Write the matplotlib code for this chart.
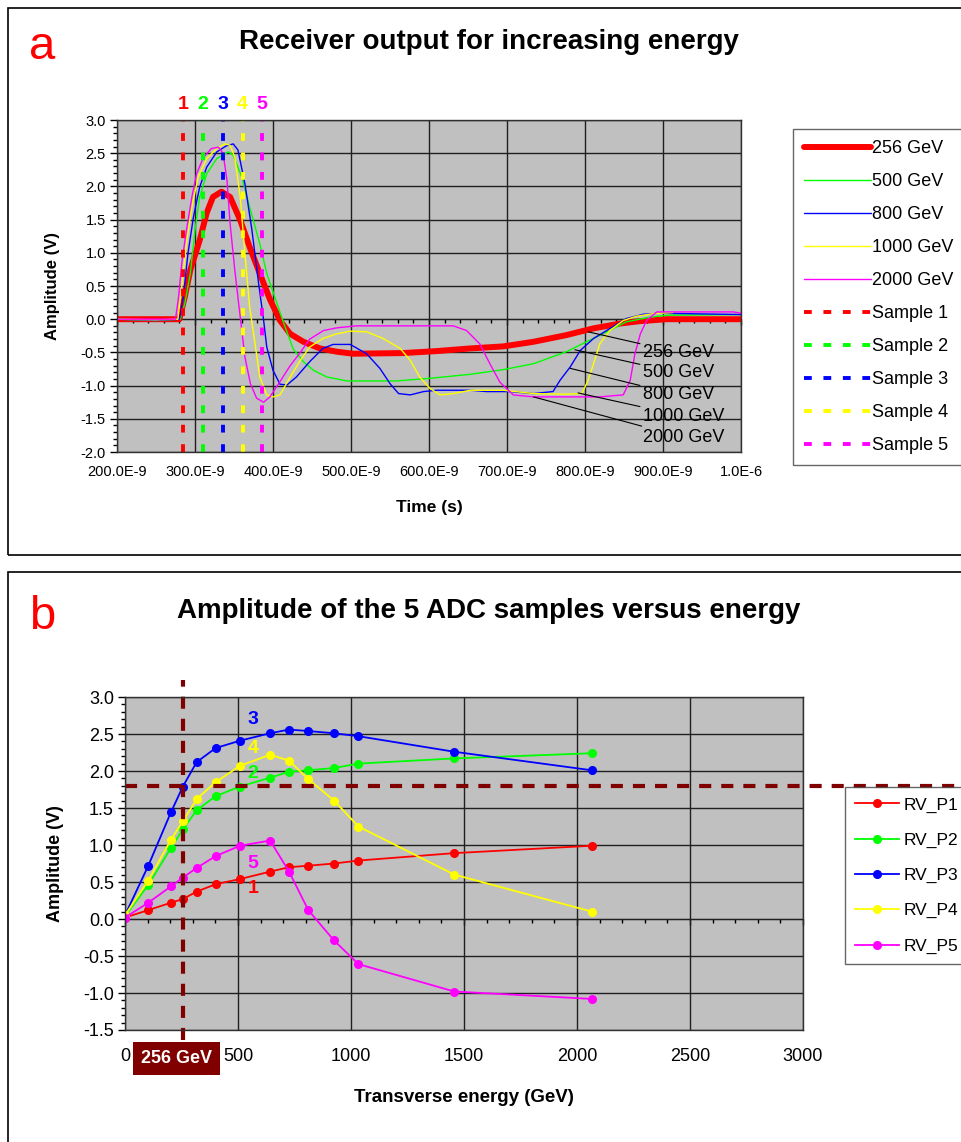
import matplotlib
matplotlib.use('Agg')
import matplotlib.pyplot as plt
from matplotlib.patches import Rectangle
from matplotlib.ticker import MultipleLocator, FormatStrFormatter
import numpy as np

plt.rcParams['font.family'] = ['Liberation Sans', 'DejaVu Sans']
plt.rcParams['axes.unicode_minus'] = False

# ---- panel a data (time in ns, amplitude in V) ----
t_256 = [200, 240, 280, 287, 294, 306, 315, 323, 334, 345, 358, 370, 383, 396, 409, 422, 439,
         460, 482, 503, 567, 610, 653, 695, 734, 776, 810, 845, 870, 905, 1000]
v_256 = [0.0, 0.0, 0.0, 0.34, 0.74, 1.19, 1.60, 1.84, 1.92, 1.84, 1.49, 1.09, 0.69, 0.30, -0.02, -0.22, -0.34,
         -0.44, -0.49, -0.52, -0.51, -0.48, -0.44, -0.41, -0.34, -0.24, -0.14, -0.065, -0.03, 0.0, 0.0]

t_500 = [200, 250, 281, 287, 294, 300, 306, 315, 328, 343, 349, 360, 370, 383, 392, 405, 415,
         426, 439, 452, 469, 495, 558, 601, 653, 695, 734, 776, 802, 828, 853, 883, 905, 1000]
v_500 = [0.0, -0.02, 0.0, 0.24, 0.69, 1.34, 1.84, 2.19, 2.42, 2.52, 2.47, 2.14, 1.69, 1.14, 0.69, 0.24, -0.10,
         -0.45, -0.64, -0.77, -0.87, -0.93, -0.93, -0.89, -0.83, -0.76, -0.67, -0.49, -0.34, -0.19, -0.04, 0.03, 0.06, 0.07]

t_800 = [200, 250, 280, 285, 291, 298, 306, 315, 328, 340, 349, 355, 364, 373, 381, 388, 392, 400,
         409, 418, 430, 447, 464, 477, 499, 520, 537, 550, 561, 576, 593, 610, 653, 674, 704, 734,
         759, 768, 781, 794, 811, 832, 853, 875, 896, 1000]
v_800 = [0.0, -0.02, 0.0, 0.34, 0.99, 1.54, 1.99, 2.29, 2.52, 2.61, 2.64, 2.55, 2.04, 1.34, 0.59, -0.02, -0.42, -0.77,
         -0.98, -0.99, -0.87, -0.64, -0.44, -0.38, -0.38, -0.52, -0.74, -0.97, -1.12, -1.14, -1.09, -1.07, -1.07, -1.09, -1.09, -1.12,
         -1.09, -0.92, -0.72, -0.47, -0.29, -0.14, 0.01, 0.075, 0.09, 0.07]

t_1000 = [200, 250, 278, 283, 289, 296, 304, 315, 328, 338, 345, 351, 358, 364, 370, 377, 383, 392,
          400, 409, 422, 435, 447, 464, 482, 499, 520, 541, 563, 576, 588, 601, 614, 631, 653, 695,
          734, 776, 796, 804, 811, 819, 832, 849, 866, 888, 913]
v_1000 = [0.0, -0.01, 0.0, 0.49, 1.14, 1.69, 2.14, 2.42, 2.57, 2.64, 2.62, 2.44, 1.84, 0.99, 0.19, -0.37, -0.87, -1.14,
          -1.17, -1.14, -0.87, -0.62, -0.42, -0.29, -0.22, -0.18, -0.19, -0.29, -0.44, -0.62, -0.87, -1.04, -1.14, -1.12, -1.07, -1.07,
          -1.12, -1.13, -1.12, -0.92, -0.67, -0.37, -0.17, -0.02, 0.045, 0.085, 0.10]

t_2000 = [200, 250, 275, 279, 283, 289, 296, 302, 311, 321, 330, 336, 341, 345, 351, 358, 364, 371,
          379, 388, 396, 409, 422, 435, 447, 465, 482, 507, 631, 648, 665, 678, 691, 708, 734, 819,
          849, 858, 864, 871, 879, 892, 990, 1000]
v_2000 = [0.0, 0.0, 0.0, 0.34, 0.84, 1.34, 1.84, 2.19, 2.44, 2.57, 2.59, 2.50, 2.09, 1.44, 0.74, 0.03, -0.57, -0.97,
          -1.19, -1.25, -1.17, -0.94, -0.70, -0.50, -0.30, -0.17, -0.13, -0.10, -0.10, -0.17, -0.37, -0.67, -0.95, -1.14, -1.17, -1.17,
          -1.14, -0.92, -0.52, -0.22, -0.02, 0.11, 0.11, 0.09]

sample_t = [285, 310, 336, 361, 386]
time_ticks = [200, 300, 400, 500, 600, 700, 800, 900, 1000]
time_tick_labels = ['200.0E-9', '300.0E-9', '400.0E-9', '500.0E-9', '600.0E-9',
                    '700.0E-9', '800.0E-9', '900.0E-9', '1.0E-6']

# callouts: (label, point time, point amp, text time, text amp)
callouts = [('256 GeV', 804, -0.19, 874, -0.50),
            ('500 GeV', 787, -0.46, 874, -0.81),
            ('800 GeV', 781, -0.74, 874, -1.14),
            ('1000 GeV', 791, -1.11, 874, -1.46),
            ('2000 GeV', 734, -1.17, 874, -1.78)]

# ---- panel b data ----
energy = [0, 103, 203, 256, 317, 401, 509, 642, 726, 811, 925, 1033, 1457, 2065]
rv_p1 = [0.02, 0.12, 0.22, 0.27, 0.37, 0.47, 0.54, 0.64, 0.70, 0.72, 0.75, 0.79, 0.89, 0.99]
rv_p2 = [0.04, 0.46, 0.96, 1.21, 1.47, 1.66, 1.79, 1.91, 1.99, 2.01, 2.04, 2.10, 2.17, 2.24]
rv_p3 = [0.05, 0.72, 1.44, 1.79, 2.12, 2.31, 2.41, 2.51, 2.56, 2.54, 2.51, 2.47, 2.26, 2.01]
rv_p4 = [0.05, 0.52, 1.07, 1.32, 1.62, 1.85, 2.07, 2.22, 2.14, 1.89, 1.60, 1.25, 0.60, 0.10]
rv_p5 = [0.02, 0.22, 0.44, 0.56, 0.69, 0.85, 0.99, 1.06, 0.64, 0.12, -0.29, -0.61, -0.98, -1.08]

ref_energy = 256
ref_amp = 1.8

colors = ['#FF0000', '#00FF00', '#0000FF', '#FFFF00', '#FF00FF']
maroon = '#800000'
bg = '#C0C0C0'


def zero_line_ticks(ax, major, minor):
    # excel style tick marks on the y=0 line
    y0, y1 = ax.get_ylim()
    sec = ax.secondary_xaxis((0 - y0) / (y1 - y0))
    sec.set_xticks(major)
    sec.set_xticks(minor, minor=True)
    sec.tick_params(which='major', direction='out', length=4, width=1, labelbottom=False, labeltop=False)
    sec.tick_params(which='minor', direction='out', length=3, width=1)
    for s in sec.spines.values():
        s.set_color('black')
    return sec


def style_axes(ax):
    ax.set_facecolor(bg)
    ax.grid(True, which='major', color='#202020', lw=1)
    ax.set_axisbelow(True)
    for s in ax.spines.values():
        s.set_color('#303030')
        s.set_linewidth(1)
    ax.tick_params(axis='y', which='major', direction='out', length=5, width=1)
    ax.tick_params(axis='y', which='minor', direction='out', length=3, width=1)
    ax.tick_params(axis='x', which='both', length=0)


fig = plt.figure(figsize=(9.61, 11.42), dpi=100)

# panel frames
fig.patches.append(Rectangle((8 / 961, 1 - 555 / 1142), 1.0, 547 / 1142, transform=fig.transFigure,
                             fill=False, edgecolor='black', lw=1.2))
fig.patches.append(Rectangle((8 / 961, -0.05), 1.0, 1 - 572 / 1142 + 0.05, transform=fig.transFigure,
                             fill=False, edgecolor='black', lw=1.2))

# ================= panel a =================
ax1 = fig.add_axes([117 / 961, 1 - 452 / 1142, 624 / 961, 332 / 1142])
style_axes(ax1)

curves = [(t_256, v_256, '256 GeV', 4.3), (t_500, v_500, '500 GeV', 1.0),
          (t_800, v_800, '800 GeV', 1.0), (t_1000, v_1000, '1000 GeV', 1.0),
          (t_2000, v_2000, '2000 GeV', 1.0)]
for (t, v, lab, lw), c in zip(curves, colors):
    ax1.plot(np.array(t) * 1e-9, v, color=c, lw=lw, label=lab, solid_capstyle='round')

for i, (ts, c) in enumerate(zip(sample_t, colors)):
    ax1.axvline(ts * 1e-9, color=c, lw=2.8, ls=(0, (2, 3)), label='Sample %d' % (i + 1))
    ax1.text(ts * 1e-9, 1.048, str(i + 1), transform=ax1.get_xaxis_transform(), color=c,
             fontsize=14, fontweight='bold', ha='center', va='center')

for lab, pt, pv, tt, tv in callouts:
    ax1.annotate(lab, xy=(pt * 1e-9, pv), xytext=(tt * 1e-9, tv), fontsize=13,
                 ha='left', va='center',
                 arrowprops=dict(arrowstyle='-', color='black', lw=0.8, shrinkA=0, shrinkB=0))

ax1.set_xlim(200e-9, 1000e-9)
ax1.set_ylim(-2.0, 3.0)
ax1.set_xticks(np.array(time_ticks) * 1e-9)
ax1.set_xticklabels(time_tick_labels)
ax1.yaxis.set_major_locator(MultipleLocator(0.5))
ax1.yaxis.set_minor_locator(MultipleLocator(0.1))
ax1.yaxis.set_major_formatter(FormatStrFormatter('%.1f'))
ax1.tick_params(axis='x', labelsize=10.5, pad=9)
ax1.tick_params(axis='y', labelsize=10.5, pad=3)
zero_line_ticks(ax1, np.array(time_ticks) * 1e-9, np.arange(200, 1001, 20) * 1e-9)

ax1.set_ylabel('Amplitude (V)', fontsize=12, fontweight='bold')
ax1.yaxis.set_label_coords(-0.091, 0.5)
ax1.set_xlabel('Time (s)', fontsize=12.5, fontweight='bold')
ax1.xaxis.set_label_coords(0.5, -0.145)

leg1 = ax1.legend(loc='upper left', bbox_to_anchor=(793 / 961, 1 - 129 / 1142),
                  bbox_transform=fig.transFigure, fontsize=13, handlelength=3.7,
                  labelspacing=0.89, borderpad=0.6, handletextpad=0.1, fancybox=False,
                  frameon=True, borderaxespad=0)
leg1.get_frame().set_edgecolor('#404040')
leg1.get_frame().set_linewidth(1)

fig.text(489 / 961, 1 - 42 / 1142, 'Receiver output for increasing energy', fontsize=20,
         fontweight='bold', ha='center', va='center')
fig.text(42 / 961, 1 - 47 / 1142, 'a', fontsize=34, color='#FF0000', ha='center', va='center')

# ================= panel b =================
ax2 = fig.add_axes([125 / 961, 1 - 1030 / 1142, 678 / 961, 333 / 1142])
style_axes(ax2)

series = [rv_p1, rv_p2, rv_p3, rv_p4, rv_p5]
names = ['RV_P1', 'RV_P2', 'RV_P3', 'RV_P4', 'RV_P5']
for vals, c, n in zip(series, colors, names):
    ax2.plot(energy, vals, color=c, lw=1.3, marker='o', markersize=5.5, label=n)

# sample number tags near the curves
tag_y = [0.41, 1.96, 2.69, 2.31, 0.75]
for i, (c, y) in enumerate(zip(colors, tag_y)):
    ax2.text(566, y, str(i + 1), color=c, fontsize=14, fontweight='bold', ha='center', va='center')

# 256 GeV reference lines
ax2.axvline(ref_energy, ymin=-0.03, ymax=1.05, clip_on=False, color=maroon, lw=3, ls=(0, (2.9, 2.4)))
ax2.axhline(ref_amp, xmin=0, xmax=1.24, clip_on=False, color=maroon, lw=3, ls=(0, (2.9, 2.4)))

ax2.set_xlim(0, 3000)
ax2.set_ylim(-1.5, 3.0)
ax2.xaxis.set_major_locator(MultipleLocator(500))
ax2.yaxis.set_major_locator(MultipleLocator(0.5))
ax2.yaxis.set_minor_locator(MultipleLocator(0.1))
ax2.yaxis.set_major_formatter(FormatStrFormatter('%.1f'))
ax2.tick_params(axis='x', labelsize=13, pad=13)
ax2.tick_params(axis='y', labelsize=13, pad=3)
zero_line_ticks(ax2, np.arange(0, 3001, 500), np.arange(0, 3001, 100))

ax2.text(228, -0.086, '256 GeV', transform=ax2.get_xaxis_transform(), color='white',
         fontsize=13, fontweight='bold', ha='center', va='center', zorder=10, clip_on=False,
         bbox=dict(facecolor=maroon, edgecolor='none', boxstyle='square,pad=0.45'))

ax2.set_ylabel('Amplitude (V)', fontsize=13, fontweight='bold')
ax2.yaxis.set_label_coords(-0.09, 0.5)
ax2.set_xlabel('Transverse energy (GeV)', fontsize=13.5, fontweight='bold')
ax2.xaxis.set_label_coords(0.5, -0.177)

leg2 = ax2.legend(loc='upper left', bbox_to_anchor=(845 / 961, 1 - 787 / 1142),
                  bbox_transform=fig.transFigure, fontsize=12.5, handlelength=2.5,
                  labelspacing=1.15, borderpad=0.6, handletextpad=0.3, fancybox=False,
                  frameon=True, borderaxespad=0)
leg2.get_frame().set_edgecolor('#404040')
leg2.get_frame().set_linewidth(1)

fig.text(489 / 961, 1 - 611 / 1142, 'Amplitude of the 5 ADC samples versus energy', fontsize=20,
         fontweight='bold', ha='center', va='center')
fig.text(42 / 961, 1 - 617 / 1142, 'b', fontsize=34, color='#FF0000', ha='center', va='center')

fig.savefig('out.png', dpi=100)
